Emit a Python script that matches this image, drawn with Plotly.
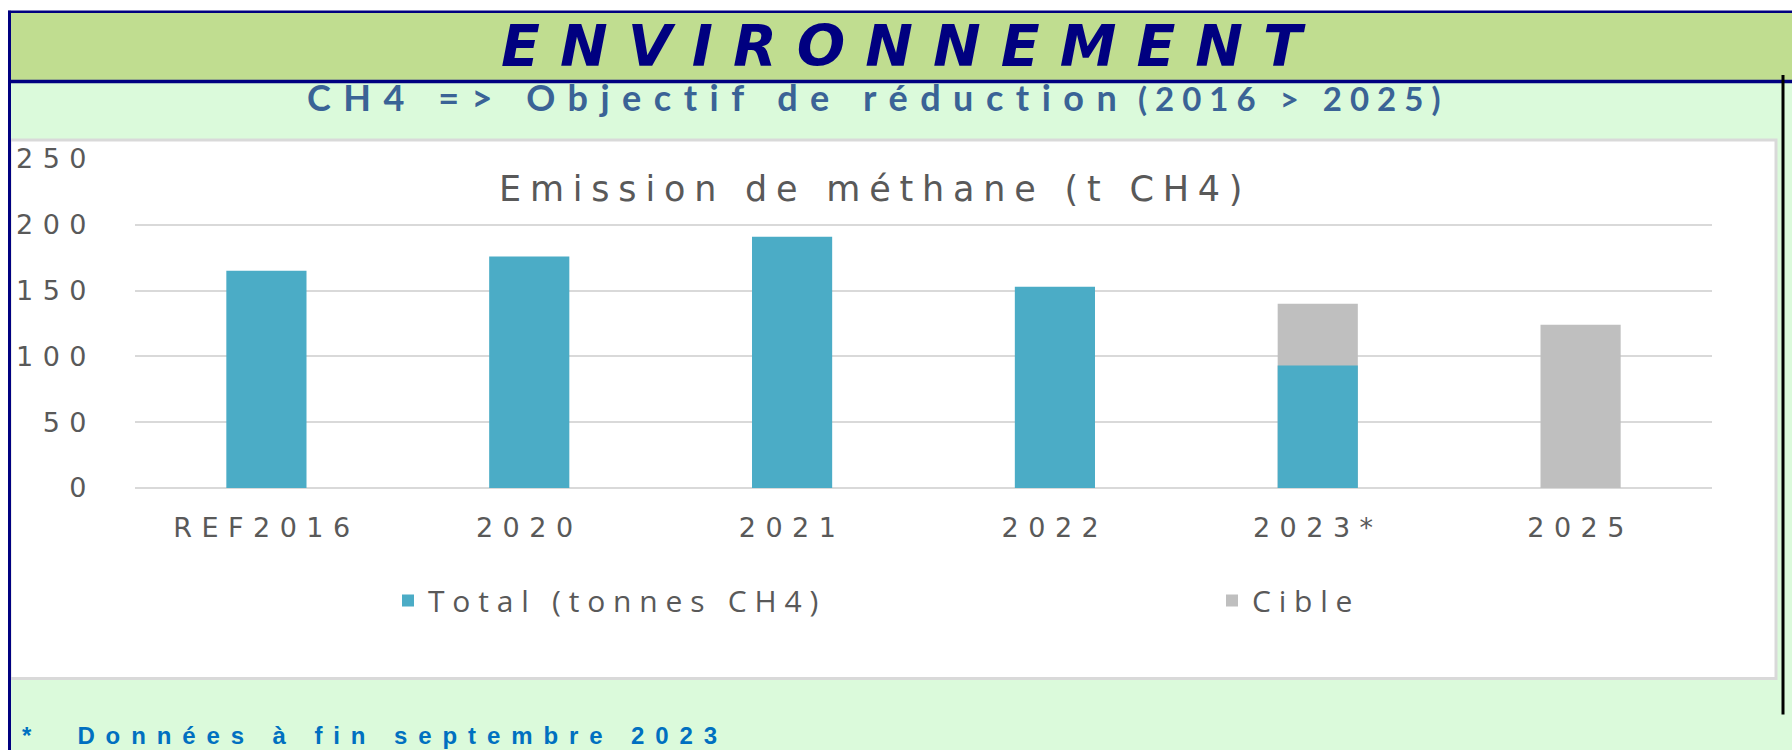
import plotly.graph_objects as go

# ---- data ----
categories = ["REF2016", "2020", "2021", "2022", "2023*", "2025"]
total_tonnes = [165, 176, 191, 153, 93, None]
cible = [None, None, None, None, 140, 124]
y_ticks = [0, 50, 100, 150, 200, 250]

header_title = "ENVIRONNEMENT"
sub_main = "CH4 => Objectif de réduction"
sub_years = "(2016 > 2025)"
chart_title = "Emission de méthane (t CH4)"
footnote = "*  Données à fin septembre 2023"
legend_total = "Total (tonnes CH4)"
legend_cible = "Cible"

# ---- geometry (pixels) ----
W, H = 1792, 750
L, R, T, B = 135, 1712, 159, 487.7


def px(x):
    return (x - L) / (R - L)


def py(y):
    return (B - y) / (B - T)


def spaced(text, sp, extra=""):
    return f"<span style='letter-spacing:{sp}px{extra}'>{text}</span>"


GREY_TXT = "#595959"
TEAL = "#4BACC6"
GREY_BAR = "#BFBFBF"
NAVY = "#000080"

fig = go.Figure()
fig.add_trace(go.Bar(x=categories, y=cible, name=spaced(legend_cible, 7.8),
                     marker=dict(color=GREY_BAR, line=dict(width=0)),
                     width=0.305, legend="legend2"))
fig.add_trace(go.Bar(x=categories, y=total_tonnes, name=spaced(legend_total, 7.8),
                     marker=dict(color=TEAL, line=dict(width=0)),
                     width=0.305, legend="legend"))

tick_font = dict(family="DejaVu Sans", size=27, color=GREY_TXT)

shapes = [
    dict(type="rect", xref="paper", yref="paper", x0=px(10), x1=px(1792), y0=py(83), y1=py(750),
         fillcolor="#DBFADB", line=dict(width=0), layer="below"),
    dict(type="rect", xref="paper", yref="paper", x0=px(10), x1=px(1792), y0=py(12), y1=py(80),
         fillcolor="#C0DD90", line=dict(width=0), layer="below"),
    dict(type="rect", xref="paper", yref="paper", x0=px(10), x1=px(1776), y0=py(140), y1=py(678),
         fillcolor="white", line=dict(color="#D9D9D9", width=3), layer="below"),
    dict(type="line", xref="paper", yref="paper", x0=px(8), x1=px(1792), y0=py(12), y1=py(12),
         line=dict(color=NAVY, width=2.5), layer="above"),
    dict(type="line", xref="paper", yref="paper", x0=px(9), x1=px(1792), y0=py(81.5), y1=py(81.5),
         line=dict(color=NAVY, width=3.5), layer="above"),
    dict(type="line", xref="paper", yref="paper", x0=px(9.5), x1=px(9.5), y0=py(11), y1=py(750),
         line=dict(color=NAVY, width=3), layer="above"),
    dict(type="line", xref="paper", yref="paper", x0=px(1783), x1=px(1783), y0=py(75), y1=py(714),
         line=dict(color="black", width=3), layer="above"),
]

annotations = [
    dict(text=spaced(header_title, 20), x=px(901 + 10), y=py(46), xref="paper", yref="paper",
         xanchor="center", yanchor="middle", showarrow=False,
         font=dict(family="DejaVu Sans", size=57, color=NAVY, weight="bold", style="italic")),
    dict(text=spaced(sub_main, 12.5) + " " + spaced(sub_years, 8, ";font-size:33px"),
         x=px(872 + 5), y=py(97.5), xref="paper", yref="paper",
         xanchor="center", yanchor="middle", showarrow=False,
         font=dict(family="Lato", size=36, color="#3A6396", weight="bold")),
    dict(text=spaced(chart_title, 8.8), x=px(871 + 4), y=py(189), xref="paper", yref="paper",
         xanchor="center", yanchor="middle", showarrow=False,
         font=dict(family="DejaVu Sans", size=35, color=GREY_TXT)),
    dict(text=spaced(footnote, 10.9), x=px(20), y=py(735), xref="paper", yref="paper",
         xanchor="left", yanchor="middle", showarrow=False,
         font=dict(family="Liberation Sans", size=24, color="#0070C0", weight="bold")),
]

legend_font = dict(family="Open Sans", size=30, color=GREY_TXT)

fig.update_layout(
    width=W, height=H, autosize=False,
    margin=dict(l=L, r=W - R, t=T, b=H - B, pad=0),
    paper_bgcolor="white", plot_bgcolor="rgba(0,0,0,0)",
    barmode="overlay",
    showlegend=True,
    legend=dict(orientation="h", x=px(388), xanchor="left", y=py(600), yanchor="middle",
                font=legend_font, bgcolor="rgba(0,0,0,0)"),
    legend2=dict(orientation="h", x=px(1212), xanchor="left", y=py(600), yanchor="middle",
                 font=legend_font, bgcolor="rgba(0,0,0,0)"),
    xaxis=dict(type="category", range=[-0.5, 5.5], tickmode="array", tickvals=categories,
               ticktext=[spaced(c, 9.5) for c in categories], tickfont=tick_font,
               showgrid=False, showline=False, zeroline=False, ticks="", ticklabelstandoff=21),
    yaxis=dict(range=[0, 250], tickmode="array", tickvals=y_ticks,
               ticktext=[spaced(str(v), 9.5) for v in y_ticks], tickfont=tick_font,
               showgrid=True, gridcolor="#D9D9D9", gridwidth=2,
               zeroline=True, zerolinecolor="#D9D9D9", zerolinewidth=2,
               showline=False, ticks="", ticklabelstandoff=38),
    shapes=shapes,
    annotations=annotations,
)

fig.write_html("out.html", config={"displayModeBar": False},
               post_script="document.body.style.margin='0';")
